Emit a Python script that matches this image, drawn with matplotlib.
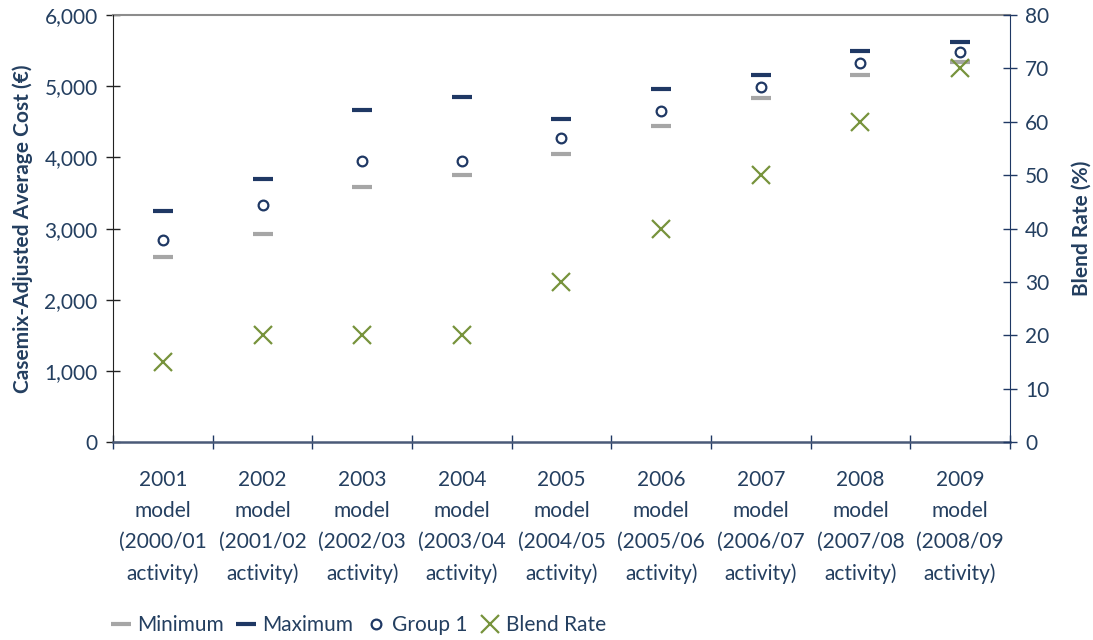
import matplotlib
matplotlib.use("Agg")
import matplotlib.pyplot as plt
import numpy as np

plt.rcParams['font.family'] = ['Lato', 'DejaVu Sans']

# data
years = ["2001", "2002", "2003", "2004", "2005", "2006", "2007", "2008", "2009"]
activity = ["2000/01", "2001/02", "2002/03", "2003/04", "2004/05",
            "2005/06", "2006/07", "2007/08", "2008/09"]
minimum = [2600, 2920, 3580, 3750, 4045, 4440, 4830, 5160, 5340]
maximum = [3250, 3695, 4665, 4845, 4540, 4960, 5160, 5490, 5620]
group1 = [2835, 3325, 3945, 3945, 4270, 4650, 4990, 5325, 5480]
blend_rate = [15, 20, 20, 20, 30, 40, 50, 60, 70]

navy = "#1F3864"
text_c = "#243F60"
gray = "#A6A6A6"
green = "#77933C"
fs = 15

labels = [f"{y}\nmodel\n({a}\nactivity)" for y, a in zip(years, activity)]
x = np.arange(len(years))

fig = plt.figure(figsize=(10.93, 6.40), dpi=100)
ax = fig.add_axes([0.1034, 0.309, 0.8206, 0.6676])
ax2 = ax.twinx()

h_min, = ax.plot(x, minimum, ls="none", marker="_", ms=15, mew=3, color=gray, label="Minimum")
h_max, = ax.plot(x, maximum, ls="none", marker="_", ms=15, mew=3, color=navy, label="Maximum")
h_g1, = ax.plot(x, group1, ls="none", marker="o", ms=7, mew=1.6, mfc="white", mec=navy,
                label="Group 1")
h_bl, = ax2.plot(x, blend_rate, ls="none", marker="x", ms=13, mew=1.6, color=green,
                 label="Blend Rate")

ax.set_xlim(-0.5, len(years) - 0.5)
ax.set_ylim(0, 6000)
ax2.set_ylim(0, 80)
ax.set_yticks(np.arange(0, 6001, 1000))
ax.set_yticklabels([f"{v:,}" for v in range(0, 6001, 1000)])
ax2.set_yticks(np.arange(0, 81, 10))

ax.set_xticks(x)
ax.set_xticklabels(labels, linespacing=1.68)
ax.set_xticks(np.arange(-0.5, len(years), 1), minor=True)
ax.tick_params(axis="x", which="major", length=0, pad=20, labelsize=fs, labelcolor=text_c)
ax.tick_params(axis="x", which="minor", length=10, direction="inout", color=navy, width=1)
ax.tick_params(axis="y", length=10, direction="inout", width=1, color="#222222",
               labelsize=fs, labelcolor=text_c, pad=6)
ax2.tick_params(axis="y", length=10, direction="inout", width=1, color=navy,
                labelsize=fs, labelcolor=text_c, pad=6)

for a in (ax, ax2):
    a.spines["top"].set_visible(False)
ax.spines["right"].set_visible(False)
ax2.spines["left"].set_visible(False)
ax2.spines["bottom"].set_visible(False)
ax.spines["left"].set_color("#222222")
ax.spines["bottom"].set_color("#4A5A78")
ax.spines["bottom"].set_linewidth(1.8)
ax2.spines["right"].set_color(navy)
ax.axhline(6000, color="#8C8C8C", lw=1.5, clip_on=False)

ax.set_ylabel("Casemix-Adjusted Average Cost (€)", fontsize=fs, fontweight="bold",
              color=text_c, labelpad=8)
ax2.set_ylabel("Blend Rate (%)", fontsize=fs, fontweight="bold", color=text_c, labelpad=16)

fig.legend(handles=[h_min, h_max, h_g1, h_bl], loc="lower left",
           bbox_to_anchor=(0.086, -0.022), ncol=4, frameon=False, fontsize=fs,
           labelcolor=text_c, handlelength=0.8, handletextpad=0.35, columnspacing=0.7)

fig.savefig("out.png", dpi=100)
